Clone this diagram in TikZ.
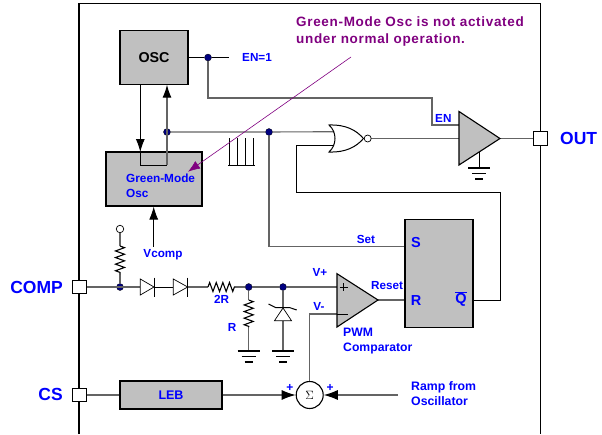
\documentclass[tikz,border=0pt]{standalone}
\usepackage{fontspec}
\setmainfont{Liberation Sans}
\usetikzlibrary{arrows.meta,decorations.pathmorphing}
\definecolor{pinblue}{RGB}{0,0,255}
\definecolor{boxgray}{RGB}{192,192,192}
\definecolor{wiregray}{RGB}{100,100,100}
\definecolor{dotnavy}{RGB}{0,0,128}
\definecolor{notepurple}{RGB}{128,0,128}
\tikzset{
    every node/.style={align=left,font=\bfseries},
    block/.style={draw,line width=1.1pt,fill=boxgray,inner sep=0pt},
    pad/.style={draw,line width=.6pt,fill=white,minimum size=13.5pt,inner sep=0pt},
    joint/.style={circle,fill=dotnavy,draw=black,line width=.3pt,minimum size=7pt,inner sep=0pt},
    wire/.style={draw=wiregray,line width=1.1pt},
    wireb/.style={draw=black,line width=.9pt},
    lab/.style={text=pinblue,font=\bfseries\fontsize{11.7}{13}\selectfont,inner sep=0pt},
    pin/.style={text=pinblue,font=\bfseries\fontsize{17.5}{19}\selectfont,inner sep=0pt},
    note/.style={text=notepurple,font=\bfseries\fontsize{13.5}{18}\selectfont\addfontfeature{LetterSpace=5},inner sep=0pt},
    resistor/.style={wireb,line width=1.1pt,decorate,decoration={zigzag,amplitude=4.5pt,segment length=6.6pt}},
    ground/.style={line width=1.1pt},
    bigtip/.style={-{Latex[black,length=13pt,width=9pt]}},
    sumtip/.style={-{Latex[black,length=14pt,width=10pt]}},
}
\newcommand{\gnd}[1]{
    \draw[ground] ([xshift=-11pt]#1) -- ([xshift=11pt]#1);
    \draw[ground] ([xshift=-7pt,yshift=-5.5pt]#1) -- ([xshift=7pt,yshift=-5.5pt]#1);
    \draw[ground] ([xshift=-4pt,yshift=-11pt]#1) -- ([xshift=4pt,yshift=-11pt]#1);
}

\begin{document}
\begin{tikzpicture}[x=1pt,y=-1pt]
    \useasboundingbox (0,0) rectangle (602,434);
    % chip outline
    \draw[line width=1.1pt] (79,434) -- (79,3.5) -- (540.5,3.5) -- (540.5,434);

    % blocks
    \node[block,minimum width=68pt,minimum height=54pt] (osc) at (154,57.5) {\fontsize{14.3}{16}\selectfont OSC};
    \node[block,minimum width=96pt,minimum height=54pt] (green) at (154,179) {};
    \node[block,minimum width=102pt,minimum height=28pt] (leb) at (171,395) {\textcolor{pinblue}{\fontsize{12.5}{14}\selectfont LEB}};
    \node[block,minimum width=68pt,minimum height=108pt] (latch) at (439,273.5) {};
    \node[draw,circle,line width=1.1pt,fill=white,minimum size=27pt,inner sep=0pt] (sum) at (309.7,395) {\normalfont\fontsize{13}{13}\selectfont$\Sigma$};

    % pads
    \node[pad] (comp) at (79.5,287) {};
    \node[pad] (cs) at (79.5,395) {};
    \node[pad] (out) at (540.5,138.5) {};

    % joints
    \node[joint] (enjoint) at (208,57.5) {};
    \node[joint] (fbjoint) at (167,132) {};
    \node[joint] (setjoint) at (269,132) {};
    \node[joint] (compjoint) at (120,287) {};
    \node[joint] (rjoint) at (248.7,287) {};
    \node[joint] (zjoint) at (283,287) {};
    \node[draw,circle,line width=.7pt,fill=white,minimum size=7.5pt,inner sep=0pt] (pullup) at (120,229) {};

    % named points
    \coordinate (enend) at (229,57.5);
    \coordinate (drvin) at (459,125);
    \coordinate (drvtip) at (500,138.5);
    \coordinate (drvgnd) at (479.3,168);
    \coordinate (norup) at (334,131.7);
    \coordinate (nordown) at (334,145.3);
    \coordinate (bubble) at (367.7,138.5);
    \coordinate (plus) at (337,287);
    \coordinate (minus) at (337,314);
    \coordinate (cmptip) at (378,300);
    \coordinate (ramp) at (398,395);
    \coordinate (vcomp) at (153.7,246.7);
    \coordinate (d1a) at (140.3,287);
    \coordinate (d1k) at (154,287);
    \coordinate (d2a) at (173.3,287);
    \coordinate (d2k) at (187.7,287);
    \coordinate (r2a) at (208,287);
    \coordinate (r2b) at (235,287);
    \coordinate (r1a) at (248.7,300);
    \coordinate (r1b) at (248.7,327);
    \coordinate (r3a) at (120,246);
    \coordinate (r3b) at (120,274);
    \coordinate (gnda) at (248.7,351);
    \coordinate (gndb) at (283,351);
    \coordinate (za) at (283,320.7);
    \coordinate (zk) at (283,308);

    % wires
    \draw[wireb] (osc.east |- enjoint) -- (enjoint) -- (enend);
    \draw[wire] (enjoint) |- (432,98) |- (drvin);
    \draw[wire] (fbjoint) -- (setjoint) -- (norup);
    \draw[wire] (setjoint) |- (latch.west |- 0,246.7);
    \draw[wireb] (nordown) -| (296,192.3) -| (500,300) -- (latch.east |- 0,300);
    \draw[wire] (bubble) -- (drvtip);
    \draw[wire] (drvtip) -- (out);
    \draw[wireb] (drvgnd |- 0,152) -- (drvgnd);
    \draw[wireb,bigtip] (osc.south -| 140.3,0) -- (140.3,152);
    \draw[wireb] (140.3,152) |- (167,165);
    \draw[wire,bigtip] (167,165) -- (167,84.7);
    \draw[wireb,bigtip] (vcomp) -- (green.south -| vcomp);
    \draw[wire] (comp) -- (d1a);
    \draw[wireb] (d1k) -- (d2a);
    \draw[wire] (d2k) -- (r2a);
    \draw[wire] (r2b) -- (rjoint) -- (zjoint) -- (plus);
    \draw[wire] (pullup) -- (r3a);
    \draw[wire] (r3b) -- (compjoint);
    \draw[wire] (rjoint) -- (r1a);
    \draw[wire] (r1b) -- (gnda);
    \draw[wire] (zjoint) -- (zk);
    \draw[wire] (za) -- (gndb);
    \draw[wire] (cs) -- (leb);
    \draw[wire,sumtip] (leb) -- (sum);
    \draw[wire,sumtip] (ramp) -- (sum);
    \draw[wire] (sum) |- (minus);
    \draw[wire] (cmptip) -- (latch.west |- cmptip);

    % resistors
    \draw[resistor] (r2a) -- (r2b);
    \draw[resistor] (r1a) -- (r1b);
    \draw[resistor] (r3a) -- (r3b);

    % diodes
    \draw[line width=.7pt,fill=white] (d1a) ++(0,-8) -- (d1k) -- (140.3,295) -- cycle;
    \draw[line width=1pt] (154,277.5) -- (154,297);
    \draw[line width=.7pt,fill=white] (d2a) ++(0,-8) -- (d2k) -- (173.3,295) -- cycle;
    \draw[line width=1pt] (187.7,277.5) -- (187.7,297);
    \draw[line width=.7pt,fill=white] (zk) -- (291.5,320.7) -- (274.5,320.7) -- cycle;
    \draw[line width=1pt] (268.5,304) -- (276,307.7) -- (290,307.7) -- (296.7,310);

    % grounds
    \gnd{gnda}
    \gnd{gndb}
    \gnd{drvgnd}

    % gates
    \draw[line width=1.1pt,fill=boxgray,line join=miter] (459,111.5) -- (drvtip) -- (459,165) -- cycle;
    \draw[line width=1.1pt,fill=boxgray,line join=miter] (337,273.7) -- (cmptip) -- (337,327) -- cycle;
    \draw[line width=.7pt] (339.5,287) -- (347.5,287) (343.5,283) -- (343.5,291);
    \draw[line width=.7pt] (337,314) -- (348,314);
    \draw[line width=1pt,line join=miter] (329,125) .. controls (346,124.5) and (356,130) .. (363.5,138.5)
        .. controls (356,147) and (346,152.5) .. (329,152)
        .. controls (337,145) and (337,132) .. cycle;
    \draw[line width=.7pt,fill=white] (bubble) circle (3.5pt);

    % pulses
    \draw[line width=.8pt] (228,165) -- (255,165);
    \foreach \px in {229,237,245,253}
        \draw[line width=.8pt] (\px,138.3) -- (\px,165);

    % note
    \draw[notepurple,line width=.6pt,-{Latex[length=12pt,width=9pt]}] (351,57) -- (188,171.7);
    \node[note,anchor=west] (notea) at (296,22) {Green-Mode Osc is not activated};
    \node[note,anchor=west] (noteb) at (296,40) {under normal operation.};

    % labels
    \node[lab,anchor=west] (enone) at (242,57.5) {EN=1};
    \node[lab,anchor=west] (enlab) at (435,118) {EN};
    \node[lab,anchor=west,font=\bfseries\fontsize{11.8}{15}\selectfont] (greenlab) at (126,185.5) {Green-Mode\\Osc};
    \node[lab] (vcomplab) at (163,255) {Vcomp};
    \node[lab] (rtwo) at (221.5,299) {2R};
    \node[lab] (rlab) at (232,327) {R};
    \node[lab] (setlab) at (366,239) {Set};
    \node[lab] (vplus) at (320,272.5) {V+};
    \node[lab] (vminus) at (319,306.5) {V-};
    \node[lab] (resetlab) at (387,286) {Reset};
    \node[lab,anchor=west,font=\bfseries\fontsize{12.2}{14.5}\selectfont] (pwmlab) at (343,341) {PWM\\Comparator};
    \node[lab,anchor=west,font=\bfseries\fontsize{12.3}{15}\selectfont] (ramplab) at (411,394) {Ramp from\\Oscillator};
    \node[lab,font=\bfseries\fontsize{12}{13}\selectfont] (plusa) at (290,388) {+};
    \node[lab,font=\bfseries\fontsize{12}{13}\selectfont] (plusb) at (330,388) {+};
    \node[lab,font=\bfseries\fontsize{14.5}{16}\selectfont] (slab) at (416,243) {S};
    \node[lab,font=\bfseries\fontsize{14.5}{16}\selectfont] (rrlab) at (416,300.5) {R};
    \node[lab,font=\bfseries\fontsize{14.5}{16}\selectfont] (qlab) at (461,299) {$\overline{\mbox{Q}}$};
    \node[pin,anchor=east] (complab) at (63,287) {COMP};
    \node[pin,anchor=east] (cslab) at (63,394) {CS};
    \node[pin,anchor=west] (outlab) at (560,138) {OUT};
\end{tikzpicture}
\end{document}
